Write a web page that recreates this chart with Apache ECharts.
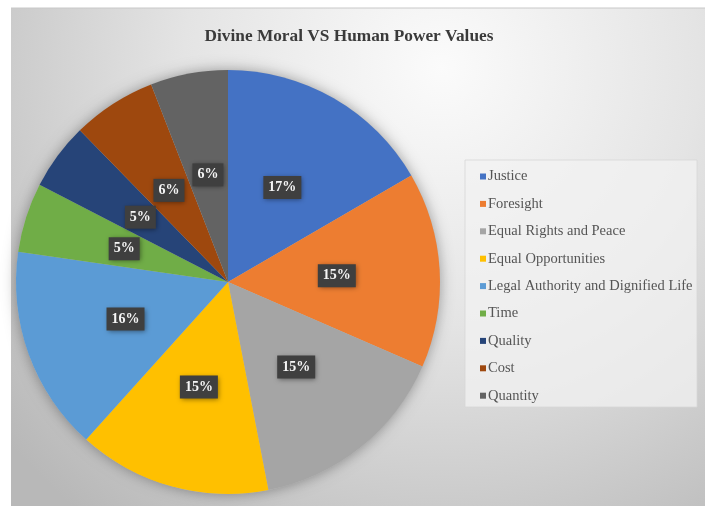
<!DOCTYPE html>
<html>
<head>
<meta charset="utf-8">
<script src="https://cdn.jsdelivr.net/npm/echarts@6/dist/echarts.min.js"></script>
<style>
html,body{margin:0;padding:0;background:#ffffff;}
#chart{width:705px;height:506px;}
</style>
</head>
<body>
<div id="chart"></div>
<script>
var titleText = 'Divine Moral VS Human Power Values';
var categories = ['Justice', 'Foresight', 'Equal Rights and Peace', 'Equal Opportunities',
  'Legal Authority and Dignified Life', 'Time', 'Quality', 'Cost', 'Quantity'];
var values = [16.6, 14.9, 15.4, 14.7, 15.6, 5.3, 5.1, 6.4, 5.9];
var colors = ['#4472C4', '#ED7D31', '#A5A5A5', '#FFC000', '#5B9BD5', '#70AD47', '#264478', '#9E480E', '#636363'];

var chart = echarts.init(document.getElementById('chart'), null, {renderer: 'canvas'});

var pieData = categories.map(function (c, i) {
  return {name: c, value: values[i], itemStyle: {color: colors[i]}};
});

var option = {
  animation: false,
  graphic: [
    {
      type: 'rect', z: -10, silent: true,
      shape: {x: 11, y: 8, width: 694, height: 498},
      style: {
        fill: new echarts.graphic.RadialGradient(0.62, 0.12, 1.15, [
          {offset: 0, color: '#fbfbfb'},
          {offset: 0.45, color: '#e4e4e4'},
          {offset: 1, color: '#b8b8b8'}
        ])
      }
    },
    {
      type: 'line', z: -9, silent: true,
      shape: {x1: 11, y1: 8, x2: 705, y2: 8},
      style: {stroke: '#c8c8c8', lineWidth: 1}
    },
    {
      type: 'rect', z: -8, silent: true,
      shape: {x: 465, y: 160, width: 232, height: 247},
      style: {fill: 'rgba(242,242,242,0.75)', stroke: 'rgba(215,215,215,0.8)', lineWidth: 1}
    }
  ],
  title: {
    text: titleText,
    left: 344,
    top: 23,
    textAlign: 'center',
    textStyle: {
      fontFamily: 'Liberation Serif',
      fontWeight: 'bold',
      fontSize: 17.3,
      color: '#3a3a3a'
    }
  },
  legend: {
    orient: 'vertical',
    left: 475,
    top: 164,
    icon: 'rect',
    itemWidth: 6,
    itemHeight: 6,
    itemGap: 12.4,
    data: categories,
    textStyle: {
      fontFamily: 'Liberation Serif',
      fontSize: 14.5,
      lineHeight: 15,
      color: '#555555',
      padding: [0, 0, 0, -3]
    }
  },
  series: [
    {
      type: 'pie',
      silent: true,
      center: [228, 282],
      radius: 212,
      z: 1,
      label: {show: false},
      labelLine: {show: false},
      itemStyle: {color: '#bbbbbb', shadowBlur: 14, shadowColor: 'rgba(0,0,0,0.35)'},
      data: [{name: '', value: 1}],
      legendHoverLink: false
    },
    {
      type: 'pie',
      center: [228, 282],
      radius: 212,
      startAngle: 90,
      clockwise: true,
      z: 2,
      data: pieData,
      label: {
        show: true,
        position: 'inside',
        formatter: function (p) { return Math.round(p.percent) + '%'; },
        fontFamily: 'Liberation Serif',
        fontWeight: 'bold',
        fontSize: 14,
        color: '#f5f5f5',
        backgroundColor: '#3f3f3f',
        padding: [5, 5, 4, 5],
        shadowBlur: 5,
        shadowColor: 'rgba(0,0,0,0.45)',
        shadowOffsetX: 1,
        shadowOffsetY: 1
      },
      labelLine: {show: false},
      itemStyle: {borderWidth: 0}
    }
  ]
};
chart.setOption(option);
</script>
</body>
</html>
